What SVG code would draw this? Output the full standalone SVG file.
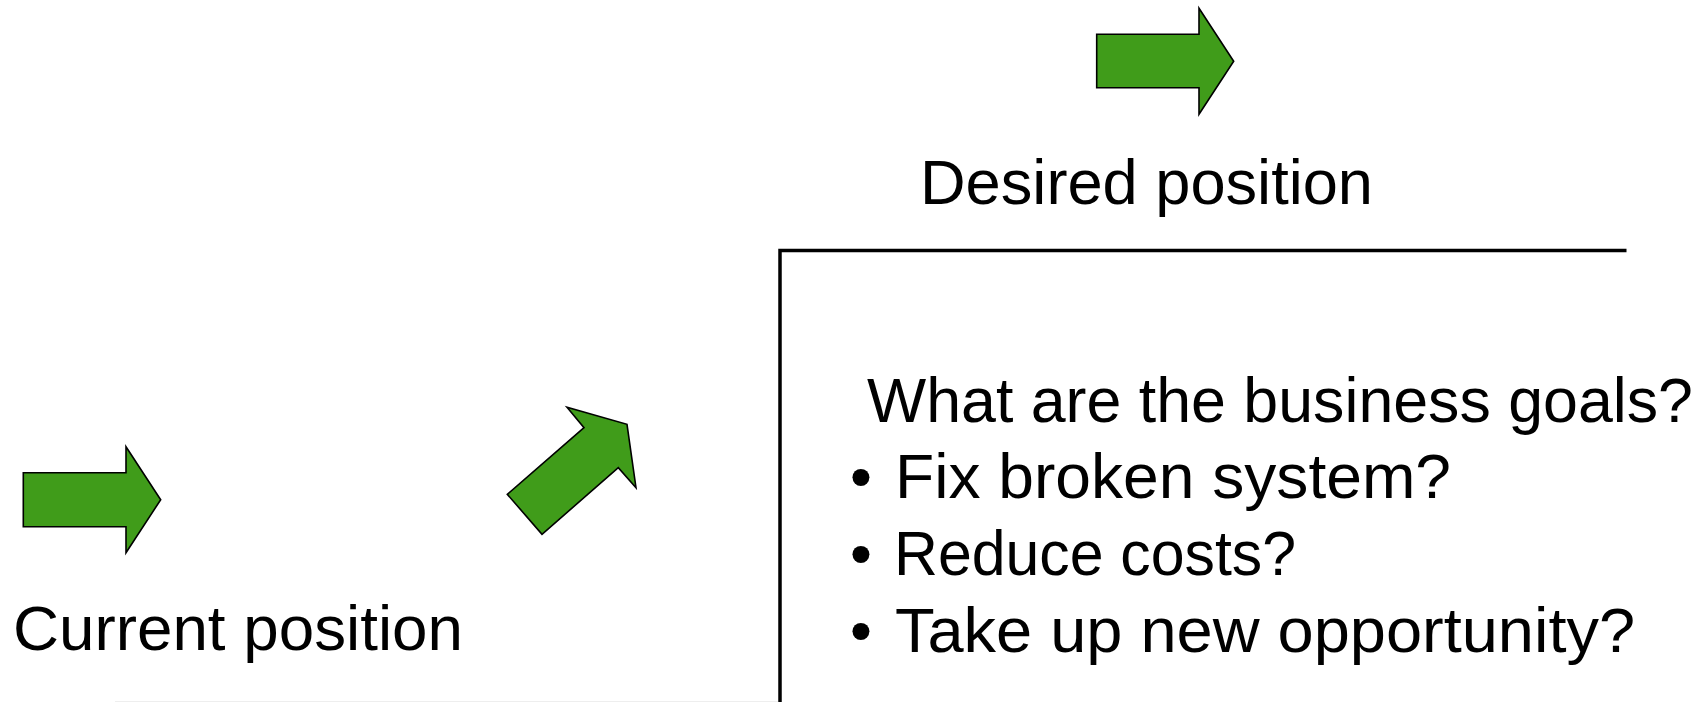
<svg xmlns="http://www.w3.org/2000/svg" width="1707" height="702" viewBox="0 0 1707 702">
<style>
.arrow{fill:#409c1a;stroke:#000;stroke-width:1.6;stroke-linejoin:miter}
.lbl{font-family:"Liberation Sans",Arial,sans-serif;font-size:62.5px;fill:#000}
.rule{stroke:#000;stroke-width:3.5;fill:none}
</style>
<rect width="1707" height="702" fill="#fff"/>
<g id="current">
<polygon class="arrow" points="23.3,472.7 126,472.7 126,446.7 160.7,499.7 126,552.7 126,526.7 23.3,526.7"/>
<text class="lbl" x="13" y="650" textLength="450" lengthAdjust="spacingAndGlyphs">Current position</text>
</g>
<g id="transition">
<polygon class="arrow" points="507.3,494.3 584,427.7 567,407.3 627,424.3 636,487.7 618.3,467.7 542,534.3"/>
</g>
<g id="desired">
<polygon class="arrow" points="1096.7,34.3 1199,34.3 1199,8.3 1233.7,61.3 1199,114.3 1199,87.7 1096.7,87.7"/>
<text class="lbl" x="920" y="203.5" textLength="453" lengthAdjust="spacingAndGlyphs">Desired position</text>
</g>
<g id="goals">
<path class="rule" d="M780,702 V250.5 H1626.5"/>
<line x1="115" y1="701.5" x2="778" y2="701.5" stroke="#eeeeee" stroke-width="1"/>
<text class="lbl" x="867" y="421.7" textLength="826" lengthAdjust="spacingAndGlyphs">What are the business goals?</text>
<text class="lbl" x="850" y="498.3">•</text>
<text class="lbl" x="895" y="498.3" textLength="556" lengthAdjust="spacingAndGlyphs">Fix broken system?</text>
<text class="lbl" x="850" y="575">•</text>
<text class="lbl" x="894" y="575" textLength="402" lengthAdjust="spacingAndGlyphs">Reduce costs?</text>
<text class="lbl" x="850" y="651.7">•</text>
<text class="lbl" x="895" y="651.7" textLength="740" lengthAdjust="spacingAndGlyphs">Take up new opportunity?</text>
</g>
<g id="connectors"></g>
</svg>
